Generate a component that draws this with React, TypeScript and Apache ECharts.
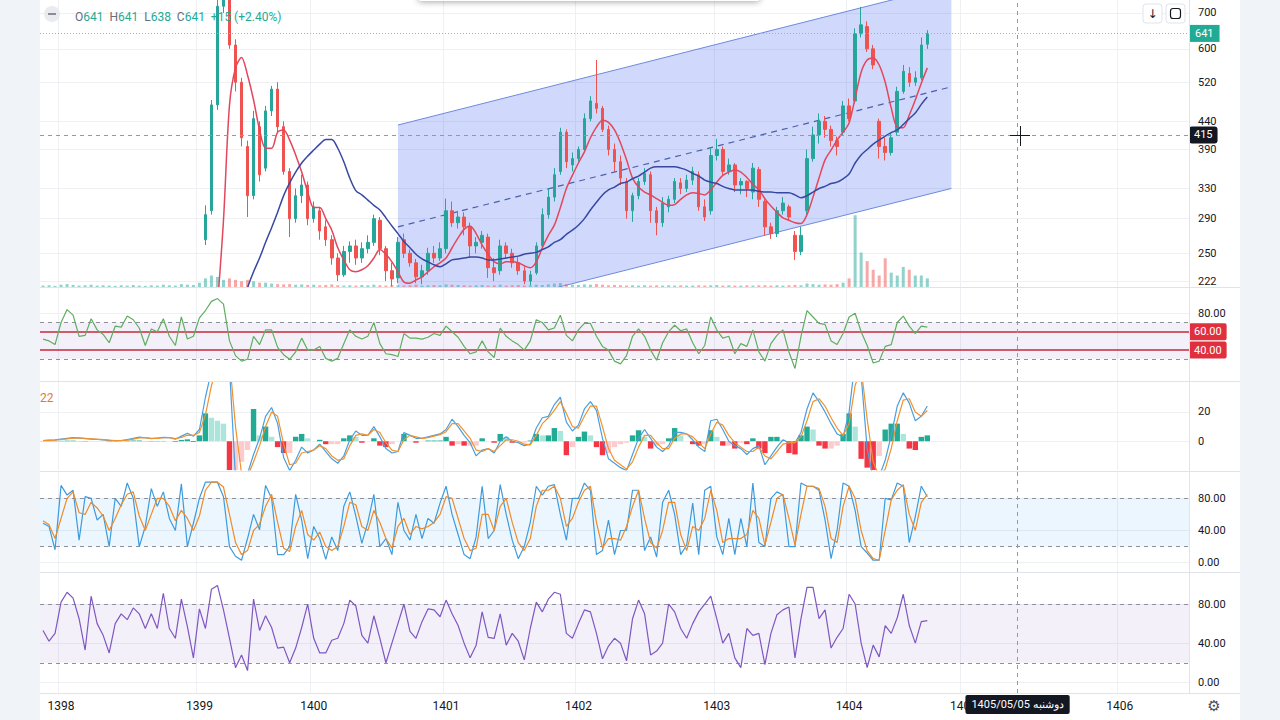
import React, { useEffect, useRef } from "react";
import * as echarts from "echarts";

// ---------------- data ----------------
const CATEGORY_COUNT = 191;
const YEAR_TICKS: Record<number, string> = {
  3: "1398", 26: "1399", 45: "1400", 67: "1401", 89: "1402",
  112: "1403", 134: "1404", 153: "1405", 179: "1406",
};
const PRICE_TICKS = [222, 250, 290, 330, 390, 440, 520, 600, 700];
const RSI_TICKS = [80];
const MACD_TICKS = [0, 20];
const OSC_TICKS = [0, 40, 80];

// candles [open, close, low, high], starting at bar CANDLE_START
const CANDLE_START = 27;
const candles = [
  [265, 295, 259, 307], [300, 472, 295, 482], [472, 720, 462, 760], [720, 760, 700, 800],
  [740, 610, 600, 780], [610, 520, 500, 625], [520, 410, 395, 530], [395, 320, 292, 405],
  [320, 445, 315, 460], [430, 350, 340, 440], [360, 460, 355, 470], [460, 505, 450, 512],
  [505, 430, 420, 520], [430, 355, 350, 440], [355, 290, 268, 360], [290, 320, 285, 330],
  [320, 335, 310, 350], [335, 290, 282, 340], [290, 305, 285, 312], [300, 275, 265, 305],
  [280, 265, 258, 288], [265, 245, 238, 270], [245, 228, 222, 250], [228, 252, 226, 258],
  [252, 258, 240, 263], [258, 245, 238, 265], [245, 255, 240, 262], [255, 262, 250, 270],
  [262, 290, 258, 295], [288, 255, 248, 292], [255, 232, 222, 258], [232, 224, 217, 240],
  [225, 262, 220, 268], [265, 250, 245, 272], [250, 240, 236, 254], [240, 226, 220, 244],
  [226, 232, 219, 238], [232, 250, 228, 256], [250, 245, 240, 258], [245, 255, 242, 262],
  [255, 300, 250, 316], [300, 285, 280, 312], [285, 292, 278, 300], [292, 280, 270, 298],
  [280, 258, 245, 285], [258, 262, 250, 268], [262, 270, 255, 275], [268, 235, 225, 272],
  [235, 230, 222, 245], [232, 258, 228, 265], [258, 250, 244, 262], [250, 240, 235, 255],
  [240, 232, 228, 246], [232, 222, 219, 236], [222, 228, 218, 232], [230, 258, 228, 262],
  [258, 295, 255, 303], [295, 318, 290, 330], [318, 350, 312, 360], [355, 420, 350, 428],
  [420, 370, 360, 425], [365, 375, 355, 385], [375, 390, 370, 395], [390, 445, 385, 455],
  [445, 480, 440, 490], [475, 465, 455, 572], [465, 425, 420, 470], [425, 390, 380, 432],
  [390, 370, 355, 400], [370, 345, 335, 380], [340, 300, 290, 345], [300, 320, 286, 324],
  [320, 340, 315, 345], [340, 352, 335, 360], [350, 300, 285, 355], [300, 285, 270, 305],
  [285, 310, 280, 318], [305, 315, 298, 320], [315, 340, 310, 345], [338, 330, 322, 345],
  [330, 342, 325, 350], [342, 355, 335, 362], [350, 305, 300, 355], [305, 292, 287, 315],
  [300, 380, 295, 392], [380, 390, 372, 408], [390, 355, 348, 395], [355, 365, 350, 375],
  [365, 335, 325, 368], [335, 340, 322, 345], [340, 330, 318, 342], [325, 360, 315, 368],
  [358, 315, 305, 362], [312, 280, 270, 315], [280, 272, 266, 285], [272, 300, 268, 305],
  [300, 310, 295, 318], [305, 292, 288, 308], [270, 252, 243, 275], [252, 270, 248, 280],
  [300, 375, 295, 390], [375, 415, 370, 430], [415, 440, 400, 455], [440, 425, 410, 450],
  [425, 405, 395, 432], [405, 395, 380, 412], [420, 470, 415, 480], [470, 445, 440, 485],
  [480, 640, 475, 655], [640, 665, 630, 718], [660, 600, 592, 675], [600, 560, 550, 610],
  [440, 395, 375, 445], [395, 385, 372, 410], [385, 410, 380, 418], [420, 500, 415, 510],
  [500, 545, 495, 560], [540, 520, 510, 555], [520, 530, 512, 545], [530, 610, 525, 630],
  [612, 641, 600, 650],
];

const RED_MA_START = 29;
const redMA = [
  200, 288, 472, 553, 578, 536, 482, 424, 392, 392,
  420, 424, 406, 381, 354, 325, 304, 304, 290, 276,
  256, 243, 233, 231, 233, 237, 245, 254, 249, 241,
  231, 221, 220, 223, 226, 231, 236, 240, 245, 256,
  267, 277, 281, 272, 259, 249, 241, 239, 241, 241,
  240, 237, 235, 241, 256, 270, 282, 304, 330, 349,
  368, 386, 410, 429, 442, 438, 424, 401, 373, 345,
  332, 325, 321, 316, 311, 307, 308, 315, 321, 324,
  323, 321, 328, 339, 349, 354, 357, 354, 346, 336,
  328, 316, 306, 298, 291, 288, 285, 284, 295, 318,
  345, 373, 389, 406, 420, 437, 486, 543, 572, 577,
  560, 520, 466, 429, 428, 452, 482, 518, 553,
];

const BLUE_MA_START = 33;
const blueMA = [
  200, 216, 231, 245, 262, 279, 298, 320, 338, 354,
  368, 379, 389, 399, 407, 407, 392, 370, 345, 327,
  321, 314, 307, 301, 291, 281, 272, 263, 256, 249,
  244, 241, 238, 236, 239, 243, 244, 245, 246, 246,
  245, 243, 243, 244, 245, 246, 247, 249, 250, 251,
  254, 257, 262, 265, 271, 276, 282, 290, 301, 311,
  321, 328, 332, 337, 339, 344, 348, 354, 360, 362,
  362, 362, 362, 360, 357, 352, 348, 342, 339, 337,
  333, 330, 328, 328, 328, 328, 326, 325, 325, 324,
  324, 324, 321, 317, 320, 325, 330, 333, 337, 339,
  344, 351, 368, 381, 390, 399, 406, 413, 419, 424,
  434, 445, 456, 473, 488,
];

const volume = [
  0.5, 0.6, 0.4, 0.8, 1, 0.7, 0.5, 0.6, 0.8, 0.5,
  0.6, 0.5, 0.4, 0.6, 0.5, 0.7, 0.5, 0.4, 0.6, 0.5,
  0.8, 0.6, 0.5, 1, 0.8, 0.7, 1.5, 3, 4, 3.5,
  2.5, 3, 2.5, 2, 2.5, 2, 1.5, 1.5, 1.2, 1,
  0.9, 1, 0.8, 0.9, 0.7, 0.8, 0.6, 0.7, 0.9, 0.6,
  0.5, 0.6, 0.5, 0.7, 0.6, 0.8, 0.6, 0.5, 0.7, 0.6,
  0.5, 0.6, 0.8, 0.5, 0.6, 0.7, 0.6, 0.9, 0.8, 0.7,
  0.6, 0.5, 0.6, 0.7, 0.5, 0.6, 0.8, 0.5, 0.6, 0.7,
  0.5, 0.6, 0.8, 0.7, 0.9, 1.2, 1.4, 1, 0.8, 0.7,
  0.9, 0.8, 1, 0.8, 0.6, 0.7, 0.6, 0.5, 0.6, 0.5,
  0.6, 0.5, 0.6, 0.5, 0.6, 0.5, 0.6, 0.5, 0.5, 0.6,
  0.5, 0.6, 0.7, 0.5, 0.6, 0.5, 0.5, 0.6, 0.5, 0.6,
  0.6, 0.5, 0.6, 0.5, 0.6, 0.7, 0.6, 1.2, 1, 0.8,
  0.9, 0.8, 1, 1.5, 3, 25, 12, 9, 6, 4,
  10, 5, 4, 7, 6, 4, 4, 3,
];

const rsi = [
  52, 50, 46, 70, 84, 78, 55, 56, 74, 62,
  57, 48, 66, 65, 77, 73, 64, 45, 63, 60,
  74, 55, 45, 76, 52, 55, 75, 83, 93, 96,
  90, 50, 34, 28, 30, 55, 46, 62, 62, 43,
  35, 30, 38, 53, 40, 40, 44, 31, 28, 31,
  47, 62, 55, 52, 55, 70, 47, 36, 35, 33,
  58, 53, 53, 52, 54, 58, 56, 66, 60, 54,
  44, 36, 38, 50, 38, 32, 64, 55, 50, 46,
  40, 50, 73, 70, 62, 64, 78, 56, 50, 62,
  69, 69, 55, 44, 40, 28, 25, 34, 55, 63,
  55, 40, 29, 48, 60, 67, 61, 63, 48, 36,
  45, 76, 62, 53, 55, 36, 47, 44, 62, 38,
  28, 47, 56, 62, 38, 20, 55, 83, 76, 69,
  68, 50, 46, 58, 76, 80, 60, 45, 26, 28,
  44, 46, 70, 77, 66, 58, 66, 65,
];

const macd = [
  0.5, 0.8, 1, 1.5, 2, 2.5, 2.2, 1.8, 1.5, 1.2,
  1, 0.6, 0.3, 0.4, 1.2, 2, 2.8, 2.4, 1.8, 2.2,
  2.6, 2.5, 1.4, 3.5, 5.5, 3.5, 8, 30, 48, 60,
  62, 50, -25, -30, -22, -9, 2, 17, 23, 12,
  -11, -20, -13, -4, -8, -6, -2, -7, -12, -15,
  -10, 1, 7, 4, 4, 10, 3, -5, -8, -7,
  6, 4, 2, 2, 3, 4, 5, 8, 15, 10,
  4, -1, -10, -6, -5, -8, 0, 3, 0, -1,
  -3, -2, 9, 16, 17, 25, 30, 13, 7, 11,
  22, 27, 21, 2, -12, -15, -18, -20, -9, 2,
  8, 2, -4, -7, -3, 6, 6, 5, 1, -4,
  -7, 14, 15, 8, 0, -3, -5, -9, -5, -3,
  -16, -10, -4, 1, -1, -1, 6, 22, 33, 27,
  20, 12, 5, 3, 20, 55, 45, -5, -25, -24,
  -13, 4, 24, 33, 26, 14, 17, 24,
];

const macdSignal = [
  0.4, 0.6, 0.8, 1.2, 1.6, 2.1, 2.3, 2.0, 1.7, 1.4,
  1.1, 0.8, 0.5, 0.4, 0.8, 1.5, 2.3, 2.5, 2.0, 2.0,
  2.4, 2.5, 1.8, 2.6, 4.2, 4.0, 6, 18, 38, 52,
  60, 56, 10, -22, -24, -14, -3, 10, 20, 17,
  -2, -16, -15, -8, -7, -6, -3, -5, -10, -13,
  -12, -3, 4, 5, 4, 8, 6, -1, -6, -7,
  1, 4, 3, 2, 2.5, 3.5, 4.5, 6.5, 12, 12,
  7, 2, -6, -7, -5, -7, -3, 1, 1, 0,
  -2, -2.5, 4, 12, 16, 21, 27, 19, 10, 9,
  17, 24, 24, 10, -5, -13, -16, -19, -14, -4,
  4, 4, -1, -5, -5, 2, 5, 5, 3, -1,
  -5, 5, 13, 11, 4, -1, -4, -7, -7, -4,
  -10, -12, -7, -2, -1, -1, 3, 14, 27, 29,
  24, 16, 9, 4, 12, 38, 50, 15, -14, -24,
  -19, -5, 14, 28, 29, 20, 17, 21,
];

const macdHist = [
  0.1, 0.2, 0.2, 0.3, 0.4, 0.4, -0.1, -0.2, -0.2, -0.2,
  -0.1, -0.2, -0.2, 0, 0.4, 0.5, 0.5, -0.1, -0.2, 0.2,
  0.2, 0, -0.4, 0.9, 1.3, -0.5, 4, 19, 16, 14,
  12, -25, -22, -14, -6, 22, 4, 10, 3, -4,
  -8, -8, 3, 5, 2, 0, 1, -2, -2, -2,
  2, 4, 3, -1, 0, 2, -3, -4, -2, 0,
  5, 0, -1, 0, 0.5, 0.5, 0.5, 3, -3, -2,
  -3, -3, -3, 2, 0, -1, 5, 3, -1, -1,
  -1, 0.5, 5, 4, 4, 9, 7, -9.5, -4, 3,
  6.6, 4, -4, -9.5, -8, -4, -2, -1, 4, 7.5,
  3, -5, -3, -2, 2, 9, 4, 0, -2, -3,
  -2, 7.5, 3, -3, -3, -5, -1, -2, 2, -5,
  -8, 3, 3, 1, -8, -9, 4, 10, 8, -3,
  -5, -5, -3, 5, 19, 10, -12, -18, -20, -10,
  8, 12, 12, 5, -5, -6, 3, 4,
];

const stochK = [
  49, 45, 16, 96, 84, 90, 28, 82, 80, 53,
  60, 20, 80, 70, 99, 80, 20, 45, 92, 70,
  88, 55, 40, 98, 20, 49, 80, 100, 100, 100,
  82, 20, 8, 3, 30, 60, 41, 96, 80, 10,
  10, 20, 85, 53, 5, 45, 30, 4, 32, 15,
  70, 88, 58, 24, 50, 85, 20, 30, 10, 75,
  40, 28, 60, 30, 55, 49, 74, 95, 60, 35,
  10, 5, 32, 95, 30, 40, 97, 60, 28, 5,
  20, 50, 95, 84, 95, 97, 60, 28, 80, 80,
  99, 90, 10, 15, 53, 10, 40, 40, 90, 90,
  15, 32, 7, 75, 90, 60, 10, 22, 74, 10,
  90, 95, 32, 10, 55, 10, 55, 20, 99, 25,
  20, 80, 88, 84, 20, 20, 99, 95, 95, 90,
  53, 5, 40, 99, 95, 65, 20, 12, 3, 3,
  80, 78, 99, 95, 25, 57, 95, 82,
];

const stochD = [
  52, 47, 30, 55, 80, 88, 62, 60, 75, 68,
  58, 40, 55, 72, 85, 88, 58, 40, 60, 80,
  80, 70, 52, 65, 55, 40, 58, 90, 100, 100,
  94, 60, 25, 10, 15, 40, 48, 70, 85, 50,
  18, 14, 45, 65, 35, 28, 38, 20, 15, 20,
  45, 75, 72, 45, 40, 65, 50, 30, 18, 45,
  55, 35, 45, 42, 45, 50, 60, 82, 80, 55,
  30, 15, 18, 60, 60, 40, 70, 80, 50, 25,
  15, 30, 70, 90, 90, 95, 80, 45, 55, 75,
  90, 95, 50, 18, 30, 30, 28, 45, 70, 90,
  55, 25, 18, 40, 75, 75, 35, 15, 45, 40,
  55, 90, 65, 25, 30, 30, 30, 35, 65, 55,
  22, 50, 80, 85, 55, 22, 60, 95, 95, 92,
  70, 30, 25, 70, 95, 80, 40, 15, 5, 3,
  40, 78, 90, 97, 60, 40, 75, 85,
];

const oscPurple = [
  53, 42, 50, 82, 92, 86, 65, 33, 88, 60,
  48, 30, 60, 70, 64, 76, 70, 55, 70, 55,
  91, 55, 45, 85, 57, 25, 75, 55, 95, 99,
  74, 45, 15, 28, 12, 85, 53, 68, 56, 35,
  36, 20, 35, 56, 80, 45, 30, 30, 43, 45,
  60, 84, 78, 48, 40, 68, 45, 20, 40, 60,
  80, 52, 45, 62, 75, 74, 67, 84, 70, 58,
  40, 25, 38, 72, 46, 45, 70, 38, 50, 42,
  23, 55, 82, 72, 85, 92, 90, 50, 45, 60,
  74, 72, 50, 24, 37, 45, 40, 22, 65, 84,
  70, 28, 32, 40, 80, 72, 55, 45, 60, 72,
  80, 88, 65, 40, 50, 25, 15, 55, 48, 50,
  18, 50, 69, 74, 77, 25, 65, 97, 97, 65,
  74, 35, 46, 55, 90, 80, 40, 15, 38, 26,
  58, 50, 66, 90, 58, 40, 62, 63,
];

// parallel channel drawing: [bar index, price]
const channelUpper = [[59, 433], [151, 789]];
const channelMid = [[59, 280], [151, 510]];
const channelLower = [[59, 182], [151, 330]];

const LAST = { open: 641, high: 641, low: 638, close: 641, change: "+15", pct: "(+2.40%)" };
const CROSS_INDEX = 162;
const CROSS_PRICE = 415;
const CROSS_DATE = "1405/05/05 دوشنبه";

// ---------------- styles ----------------
const FONT = "Roboto, 'Noto Sans', Arial, sans-serif";
const TXT = "#131722";
const GRID_LINE = "#eef0f4";
const UP = "#26a69a";
const DOWN = "#ef5350";
const DASH = { color: "#8d909a", width: 1, type: [4, 4] as number[] };

function buildOption(): any {
  const panes = [
    { top: 0, height: 287 },
    { top: 288, height: 93 },
    { top: 382, height: 88 },
    { top: 472, height: 100 },
    { top: 573, height: 120 },
  ];
  const grid = panes.map((p) => ({
    left: 0, right: 51, top: p.top, height: p.height, show: false,
    containLabel: false, outerBoundsMode: "none",
  }));
  const cats = Array.from({ length: CATEGORY_COUNT }, (_, i) => `d${i}`);
  const pointerLine = { color: "#9598a1", width: 1, type: [4, 4] };

  const xAxis = panes.map((_, k) => ({
    type: "category", gridIndex: k, data: cats, boundaryGap: true,
    axisLine: { show: false }, axisTick: { show: false },
    axisLabel: k === 4
      ? { show: true, interval: 0, margin: 7, color: TXT, fontSize: 12, fontFamily: FONT,
          formatter: (_v: string, idx: number) => YEAR_TICKS[idx] ?? "" }
      : { show: false },
    splitLine: { show: true, interval: (idx: number) => YEAR_TICKS[idx] !== undefined,
      lineStyle: { color: GRID_LINE, width: 1 } },
    axisPointer: {
      show: true, type: "line", value: CROSS_INDEX, status: "show", snap: true, triggerTooltip: false,
      lineStyle: pointerLine,
      label: k === 4
        ? { show: true, formatter: () => CROSS_DATE, backgroundColor: "#131722", color: "#ffffff",
            padding: [4, 6], fontSize: 11, fontFamily: FONT, margin: 2, borderRadius: 2 }
        : { show: false },
    },
  }));

  const oscAxis = (k: number, min: number, max: number, ticks: number[], fixed: boolean) => ({
    type: "value", gridIndex: k, position: "right", min, max,
    axisLine: { show: false },
    axisTick: { show: false, customValues: ticks },
    axisLabel: { customValues: ticks, color: TXT, fontSize: 11, margin: 9, fontFamily: FONT,
      formatter: (v: number) => (fixed ? v.toFixed(2) : String(v)) },
    splitLine: { show: true, lineStyle: { color: GRID_LINE } },
  });

  const yAxis = [
    {
      type: "log", logBase: 10, gridIndex: 0, position: "right", min: 216.4, max: 739.6,
      axisLine: { show: false },
      axisTick: { show: false, customValues: PRICE_TICKS },
      axisLabel: { customValues: PRICE_TICKS, color: TXT, fontSize: 11, margin: 9, fontFamily: FONT,
        formatter: (v: number) => String(Math.round(v)) },
      splitLine: { show: true, lineStyle: { color: GRID_LINE } },
      axisPointer: {
        show: true, type: "line", value: CROSS_PRICE, status: "show", triggerTooltip: false,
        lineStyle: pointerLine,
        label: { show: true, backgroundColor: "#131722", color: "#ffffff", padding: [3, 5], fontSize: 11,
          fontFamily: FONT, margin: 0, formatter: (p: any) => String(Math.round(p.value)) },
      },
    },
    { type: "value", gridIndex: 0, min: 0, max: 100, show: false, splitLine: { show: false } },
    oscAxis(1, 6.4, 107.5, RSI_TICKS, true),
    oscAxis(2, -19.6, 40.4, MACD_TICKS, false),
    oscAxis(3, -11.6, 112.7, OSC_TICKS, true),
    oscAxis(4, -10.9, 111.7, OSC_TICKS, true),
  ];

  const candleData = candles.map((c, j) => [CANDLE_START + j, c[0], c[1], c[2], c[3]]);
  const volData = volume.map((v, i) => {
    const c = i >= CANDLE_START ? candles[i - CANDLE_START] : null;
    const up = c ? c[1] >= c[0] : true;
    return { value: [i, v], itemStyle: { color: up ? "rgba(38,166,154,0.5)" : "rgba(239,83,80,0.5)" } };
  });
  const histData = macdHist.map((v, i) => {
    const p = i > 0 ? macdHist[i - 1] : 0;
    let color;
    if (v >= 0) color = v >= p ? "#22ab94" : "#ace5dc";
    else color = v < p ? "#f23645" : "#fccbcd";
    return { value: [i, v], itemStyle: { color } };
  });
  const pairs = (arr: number[], start: number) => arr.map((v, j) => [start + j, v]);
  const full = (arr: number[]) => arr.map((v, i) => [i, v]);

  const bandLines = (lo: number, hi: number) => ({
    silent: true, symbol: "none",
    data: [
      { yAxis: hi, lineStyle: DASH, label: { show: false } },
      { yAxis: lo, lineStyle: DASH, label: { show: false } },
    ],
  });

  const series: any[] = [
    {
      type: "custom", name: "channel", xAxisIndex: 0, yAxisIndex: 0, clip: true, z: 1, silent: true,
      data: [[channelUpper[0][0], channelUpper[0][1]]],
      renderItem: (_params: any, api: any) => {
        const pts = [
          api.coord(channelUpper[0]), api.coord(channelUpper[1]),
          api.coord(channelLower[1]), api.coord(channelLower[0]),
        ];
        return { type: "polygon", shape: { points: pts }, style: { fill: "rgba(58,96,240,0.24)" } };
      },
    },
    ...[channelUpper, channelLower].map((pts) => ({
      type: "line", xAxisIndex: 0, yAxisIndex: 0, data: pts, showSymbol: false, silent: true, z: 2,
      lineStyle: { color: "#6d8ae0", width: 1 },
    })),
    {
      type: "line", xAxisIndex: 0, yAxisIndex: 0, data: channelMid, showSymbol: false, silent: true, z: 2,
      lineStyle: { color: "#4b5fae", width: 1.2, type: [6, 5] },
    },
    {
      type: "bar", xAxisIndex: 0, yAxisIndex: 1, data: volData, barWidth: 3, silent: true, z: 2,
    },
    {
      type: "candlestick", xAxisIndex: 0, yAxisIndex: 0, data: candleData, encode: { x: 0, y: [1, 2, 3, 4] },
      barWidth: 3, clip: true, z: 4,
      itemStyle: { color: UP, color0: DOWN, borderColor: UP, borderColor0: DOWN, borderWidth: 1 },
      markLine: {
        silent: true, symbol: "none",
        data: [{
          yAxis: LAST.close,
          lineStyle: { color: "#8fb9b3", width: 1, type: [1, 2] },
          label: { show: true, position: "end", distance: 0, formatter: String(LAST.close),
            backgroundColor: "#22ab94", color: "#ffffff", padding: [3, 6], fontSize: 11, fontFamily: FONT },
        }],
      },
    },
    {
      type: "line", xAxisIndex: 0, yAxisIndex: 0, data: pairs(redMA, RED_MA_START), showSymbol: false,
      smooth: 0.3, z: 5, lineStyle: { color: "#e2475c", width: 1.5 },
    },
    {
      type: "line", xAxisIndex: 0, yAxisIndex: 0, data: pairs(blueMA, BLUE_MA_START), showSymbol: false,
      smooth: 0.3, z: 5, lineStyle: { color: "#3848a0", width: 1.5 },
    },
    // RSI
    {
      type: "line", xAxisIndex: 1, yAxisIndex: 2, data: full(rsi), showSymbol: false, z: 5,
      lineStyle: { color: "#5fae5f", width: 1.2 },
      markArea: { silent: true, itemStyle: { color: "rgba(126,87,194,0.09)" }, data: [[{ yAxis: 30 }, { yAxis: 70 }]] },
      markLine: {
        silent: true, symbol: "none",
        data: [
          { yAxis: 70, lineStyle: DASH, label: { show: false } },
          { yAxis: 30, lineStyle: DASH, label: { show: false } },
          ...[60, 40].map((v) => ({
            yAxis: v, lineStyle: { color: "#c42a3a", width: 1.6, type: "solid" },
            label: { show: true, position: "end", distance: 0, formatter: v.toFixed(2),
              backgroundColor: "#e0303e", color: "#ffffff", padding: [3, 5], fontSize: 11, fontFamily: FONT,
              borderRadius: 2 },
          })),
        ],
      },
    },
    // MACD
    {
      type: "bar", xAxisIndex: 2, yAxisIndex: 3, data: histData, barCategoryGap: "10%", silent: true, z: 3,
    },
    {
      type: "line", xAxisIndex: 2, yAxisIndex: 3, data: full(macd), showSymbol: false, z: 5,
      lineStyle: { color: "#4a9fdf", width: 1.2 },
    },
    {
      type: "line", xAxisIndex: 2, yAxisIndex: 3, data: full(macdSignal), showSymbol: false, z: 5,
      lineStyle: { color: "#f0922e", width: 1.2 },
    },
    // Stochastic
    {
      type: "line", xAxisIndex: 3, yAxisIndex: 4, data: full(stochK), showSymbol: false, z: 5,
      lineStyle: { color: "#3d9bdc", width: 1.2 },
      markArea: { silent: true, itemStyle: { color: "rgba(33,150,243,0.09)" }, data: [[{ yAxis: 20 }, { yAxis: 80 }]] },
      markLine: bandLines(20, 80),
    },
    {
      type: "line", xAxisIndex: 3, yAxisIndex: 4, data: full(stochD), showSymbol: false, z: 5,
      lineStyle: { color: "#f08a28", width: 1.2 },
    },
    // last oscillator
    {
      type: "line", xAxisIndex: 4, yAxisIndex: 5, data: full(oscPurple), showSymbol: false, z: 5,
      lineStyle: { color: "#7e57c2", width: 1.2 },
      markArea: { silent: true, itemStyle: { color: "rgba(126,87,194,0.09)" }, data: [[{ yAxis: 20 }, { yAxis: 80 }]] },
      markLine: bandLines(20, 80),
    },
  ];

  const sepY = [287.5, 381.5, 471.5, 572.5, 693.5];
  const header =
    `{l|O}{v|${LAST.open}}  {l|H}{v|${LAST.high}}  {l|L}{v|${LAST.low}}  {l|C}{v|${LAST.close}}  {v|${LAST.change} ${LAST.pct}}`;

  const graphic: any[] = [
    ...sepY.map((y) => ({
      type: "line", silent: true, z: 100,
      shape: { x1: 0, y1: y, x2: 1200, y2: y }, style: { stroke: "#e0e3eb", lineWidth: 1 },
    })),
    { type: "line", silent: true, z: 100, shape: { x1: 1149.5, y1: 0, x2: 1149.5, y2: 693 },
      style: { stroke: "#e0e3eb", lineWidth: 1 } },
    // popup shadow at top
    { type: "rect", silent: true, z: 100, shape: { x: 378, y: -40, width: 342, height: 41, r: 4 },
      style: { fill: "#ffffff", shadowBlur: 6, shadowColor: "rgba(0,0,0,0.35)", shadowOffsetY: 1 } },
    // header
    { type: "circle", silent: true, z: 100, shape: { cx: 12, cy: 14, r: 8 }, style: { fill: "#e9ebf0" } },
    { type: "rect", silent: true, z: 101, shape: { x: 8, y: 13, width: 8, height: 2 }, style: { fill: "#8a8d96" } },
    {
      type: "text", silent: true, z: 100, x: 35, y: 17,
      style: {
        text: header, verticalAlign: "middle", fontSize: 12, fontFamily: FONT,
        rich: {
          l: { fill: "#6a6d78", color: "#6a6d78", fontSize: 12, fontFamily: FONT },
          v: { fill: "#22ab94", color: "#22ab94", fontSize: 12, fontFamily: FONT },
        },
      },
    },
    // top right buttons
    { type: "rect", silent: true, z: 100, shape: { x: 1103, y: 4, width: 19, height: 19, r: 3 },
      style: { fill: "#ffffff", stroke: "#e0e3eb", lineWidth: 1 } },
    { type: "text", silent: true, z: 101, x: 1112.5, y: 13.5,
      style: { text: "↓", fontSize: 12, fontFamily: "'DejaVu Sans'", fill: TXT, align: "center", verticalAlign: "middle" } },
    { type: "rect", silent: true, z: 100, shape: { x: 1126, y: 4, width: 19, height: 19, r: 3 },
      style: { fill: "#ffffff", stroke: "#e0e3eb", lineWidth: 1 } },
    { type: "rect", silent: true, z: 101, shape: { x: 1130.5, y: 8.5, width: 10, height: 10, r: 2.5 },
      style: { fill: "none", stroke: TXT, lineWidth: 1.2 } },
    // MACD legend remnant
    { type: "text", silent: true, z: 100, x: 0, y: 398,
      style: { text: "22", fontSize: 12, fontFamily: FONT, fill: "#e07b2a", verticalAlign: "middle" } },
    // cursor cross
    { type: "line", silent: true, z: 102, shape: { x1: 970, y1: 135.5, x2: 990, y2: 135.5 }, style: { stroke: TXT, lineWidth: 1 } },
    { type: "line", silent: true, z: 102, shape: { x1: 980.5, y1: 126, x2: 980.5, y2: 146 }, style: { stroke: TXT, lineWidth: 1 } },
    // settings gear
    { type: "text", silent: true, z: 100, x: 1174, y: 706,
      style: { text: "⚙", fontSize: 15, fontFamily: "'DejaVu Sans'", fill: "#4a4d57", align: "center", verticalAlign: "middle" } },
  ];

  return {
    animation: false,
    backgroundColor: "#ffffff",
    textStyle: { fontFamily: FONT },
    grid, xAxis, yAxis, series, graphic,
  };
}

export default function App() {
  const ref = useRef<HTMLDivElement>(null);
  useEffect(() => {
    if (!ref.current) return;
    const chart = echarts.init(ref.current, null, { renderer: "svg" });
    chart.setOption(buildOption());
    return () => chart.dispose();
  }, []);
  return (
    <div style={{ position: "fixed", left: 0, top: 0, width: 1280, height: 720, background: "#f0f3f8", overflow: "hidden" }}>
      <div ref={ref} style={{ position: "absolute", left: 40, top: 0, width: 1200, height: 720, background: "#ffffff" }} />
    </div>
  );
}
